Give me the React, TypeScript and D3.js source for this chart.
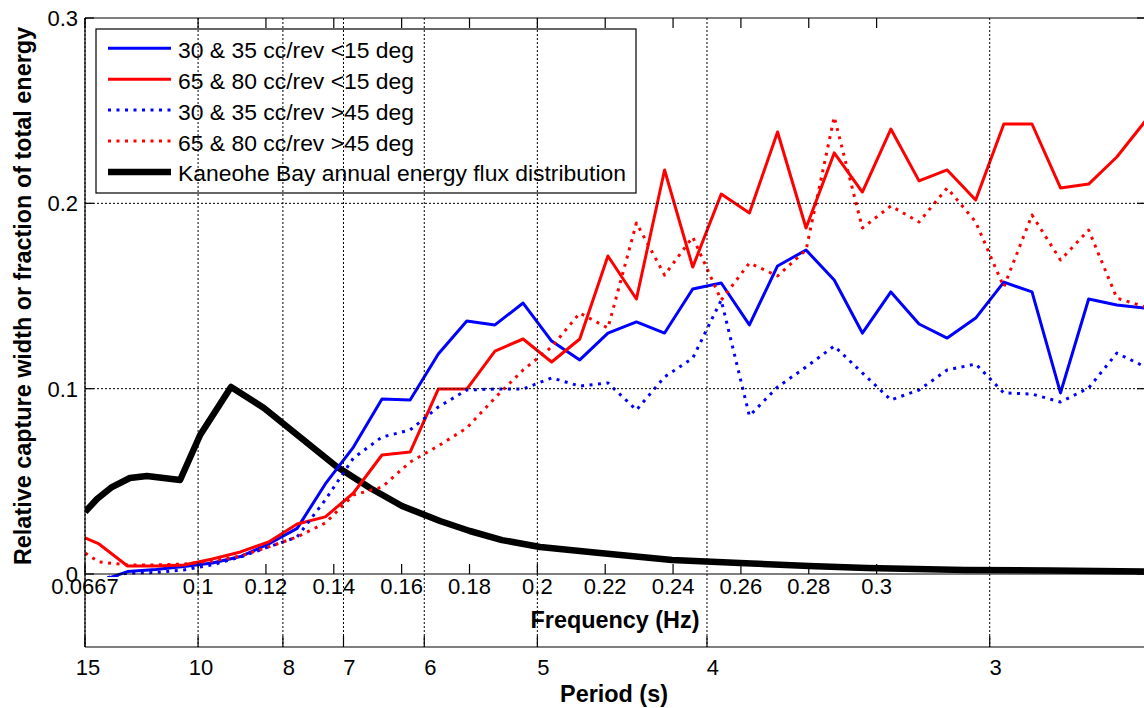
import React from 'react';
import * as d3 from 'd3';

const W = 1144;
const H = 708;

// frequency bins (Hz) for the capture-width series
const freqBins = [
  0.0625, 0.0708, 0.0792, 0.0875, 0.0958, 0.1042, 0.1125, 0.1208, 0.1292, 0.1375,
  0.1458, 0.1542, 0.1625, 0.1708, 0.1792, 0.1875, 0.1958, 0.2042, 0.2125, 0.2208,
  0.2292, 0.2375, 0.2458, 0.2542, 0.2625, 0.2708, 0.2792, 0.2875, 0.2958, 0.3042,
  0.3125, 0.3208, 0.3292, 0.3375, 0.3458, 0.3542, 0.3625, 0.3708, 0.3792,
];

const blueSolid = [
  null, -0.004, 0.0013, 0.0024, 0.004, 0.0059, 0.0094, 0.0162, 0.0246, 0.0486,
  0.0685, 0.0944, 0.0939, 0.1187, 0.1365, 0.1344, 0.1462, 0.1257, 0.1155, 0.13,
  0.136, 0.13, 0.1538, 0.157, 0.1344, 0.1662, 0.1748, 0.1586, 0.13, 0.1522,
  0.1349, 0.1273, 0.1381, 0.1575, 0.1522, 0.0977, 0.1484, 0.1451, 0.1435,
];

const redSolid = [
  0.0227, 0.0162, 0.0043, 0.0043, 0.0049, 0.0081, 0.0119, 0.0173, 0.027, 0.0308,
  0.0437, 0.0642, 0.0658, 0.0998, 0.0998, 0.1203, 0.1268, 0.1144, 0.1268, 0.1716,
  0.1484, 0.218, 0.1656, 0.205, 0.1948, 0.2385, 0.1867, 0.2272, 0.2061, 0.2401,
  0.2121, 0.218, 0.2018, 0.2428, 0.2428, 0.2083, 0.2104, 0.225, 0.2444,
];

const blueDotted = [
  null, -0.003, 0.0005, 0.0008, 0.0022, 0.0049, 0.0092, 0.0146, 0.02, 0.04,
  0.0626, 0.0739, 0.0777, 0.0901, 0.0993, 0.0998, 0.0998, 0.1058, 0.1014, 0.1031,
  0.0885, 0.1063, 0.1165, 0.1478, 0.0853, 0.1009, 0.1117, 0.123, 0.1085, 0.0939,
  0.0993, 0.1101, 0.1133, 0.0977, 0.0971, 0.0928, 0.1004, 0.1192, 0.1117,
];

const redDotted = [
  0.0162, 0.0065, 0.0049, 0.0049, 0.0054, 0.007, 0.0097, 0.0146, 0.02, 0.0275,
  0.0426, 0.0469, 0.0604, 0.0691, 0.0788, 0.095, 0.1101, 0.1225, 0.1408, 0.1327,
  0.1894, 0.1613, 0.1818, 0.1478, 0.1678, 0.1608, 0.1748, 0.2466, 0.1867, 0.1986,
  0.1899, 0.2083, 0.1899, 0.1549, 0.1937, 0.1694, 0.1856, 0.1489, 0.1441,
];

// Kaneohe Bay annual energy flux distribution
const fluxFreq = [
  0.0667, 0.0702, 0.0746, 0.0799, 0.0849, 0.0947, 0.1006, 0.1097, 0.1194, 0.13,
  0.1406, 0.1507, 0.1601, 0.1713, 0.1801, 0.1896, 0.2008, 0.2184, 0.2397, 0.2597,
  0.2801, 0.2971, 0.326, 0.3511, 0.3788,
];
const fluxVals = [
  0.0335, 0.0405, 0.0469, 0.0518, 0.0529, 0.0507, 0.075, 0.1009, 0.0896, 0.0739,
  0.0583, 0.0464, 0.0367, 0.0286, 0.0232, 0.0183, 0.0146, 0.0113, 0.0076, 0.0059,
  0.0043, 0.0032, 0.0022, 0.0019, 0.0013,
];

const freqTicks = [1 / 15, 0.1, 0.12, 0.14, 0.16, 0.18, 0.2, 0.22, 0.24, 0.26, 0.28, 0.3];
const freqTickLabels = ['0.0667', '0.1', '0.12', '0.14', '0.16', '0.18', '0.2', '0.22', '0.24', '0.26', '0.28', '0.3'];
const periodTicks = [15, 10, 8, 7, 6, 5, 4, 3];
const yTicks = [0, 0.1, 0.2, 0.3];
const yTickLabels = ['0', '0.1', '0.2', '0.3'];

const legendLabels = [
  '30 & 35 cc/rev <15 deg',
  '65 & 80 cc/rev <15 deg',
  '30 & 35 cc/rev >45 deg',
  '65 & 80 cc/rev >45 deg',
  'Kaneohe Bay annual energy flux distribution',
];

const FONT = '"Liberation Sans", Arial, Helvetica, sans-serif';

export default function App() {
  const left = 85;
  const right = 1146;
  const top = 18;
  const bottom = 574;
  const periodY = 647;

  const x = d3.scaleLinear().domain([1 / 15, 0.3794]).range([left, right]);
  const y = d3.scaleLinear().domain([0, 0.3]).range([bottom, top]);

  const line = d3
    .line<[number, number | null]>()
    .defined((d) => d[1] !== null)
    .x((d) => x(d[0]))
    .y((d) => y(d[1] as number));

  const mk = (vals: (number | null)[]) => line(freqBins.map((f, i) => [f, vals[i]] as [number, number | null])) || '';
  const fluxPath = line(fluxFreq.map((f, i) => [f, fluxVals[i]] as [number, number | null])) || '';

  const series = [
    { d: mk(blueSolid), color: '#0000ff', dash: undefined as string | undefined, w: 3 },
    { d: mk(redSolid), color: '#ff0000', dash: undefined, w: 3 },
    { d: mk(blueDotted), color: '#0000ff', dash: '3,5.5', w: 3 },
    { d: mk(redDotted), color: '#ff0000', dash: '3,5.5', w: 3 },
  ];

  const legendStyles = [
    { color: '#0000ff', dash: undefined as string | undefined, w: 3 },
    { color: '#ff0000', dash: undefined, w: 3 },
    { color: '#0000ff', dash: '3,5.5', w: 3 },
    { color: '#ff0000', dash: '3,5.5', w: 3 },
    { color: '#000000', dash: undefined, w: 6.5 },
  ];

  const lgX = 96, lgY = 29, lgW = 540, lgH = 164;

  return (
    <svg
      width={W}
      height={H}
      style={{ position: 'absolute', left: 0, top: 0, display: 'block', background: '#fff' }}
      fontFamily={FONT}
    >
      <defs>
        <clipPath id="plotClip">
          <rect x={left} y={top} width={right - left} height={bottom - top + 3} />
        </clipPath>
      </defs>
      <rect x={0} y={0} width={W} height={H} fill="#fff" />

      {/* data */}
      <g clipPath="url(#plotClip)" fill="none" strokeLinejoin="round">
        <path d={fluxPath} stroke="#000" strokeWidth={6.5} />
        {series.map((s, i) => (
          <path key={i} d={s.d} stroke={s.color} strokeWidth={s.w} strokeDasharray={s.dash} />
        ))}
      </g>

      {/* legend */}
      <rect x={lgX} y={lgY} width={lgW} height={lgH} fill="#fff" stroke="#000" strokeWidth={1.2} />
      {legendLabels.map((lab, i) => {
        const ly = 48.3 + i * 30.9;
        const st = legendStyles[i];
        return (
          <g key={lab}>
            <line x1={108} x2={171} y1={ly} y2={ly} stroke={st.color} strokeWidth={st.w} strokeDasharray={st.dash} />
            <text x={178} y={ly + 9.5} fontSize={22.9} fill="#000">
              {lab}
            </text>
          </g>
        );
      })}

      {/* horizontal grid */}
      {yTicks.filter((t) => t > 0 && t < 0.3).map((t) => (
        <line key={'hg' + t} x1={left} x2={right} y1={y(t)} y2={y(t)} stroke="#000" strokeWidth={1} strokeDasharray="2,2" />
      ))}
      {/* vertical grid at periods */}
      {periodTicks.map((p) => (
        <line key={'vg' + p} x1={x(1 / p)} x2={x(1 / p)} y1={top} y2={periodY} stroke="#000" strokeWidth={1} strokeDasharray="2,2" />
      ))}

      {/* axes frame */}
      <g stroke="#000" strokeWidth={1.2} fill="none">
        <line x1={left} x2={right} y1={top} y2={top} />
        <line x1={left} x2={left} y1={top} y2={periodY} />
        <line x1={left} x2={right} y1={bottom} y2={bottom} />
        <line x1={left} x2={right} y1={periodY} y2={periodY} />
        <line x1={right} x2={right} y1={top} y2={periodY} />
      </g>

      {/* frequency ticks */}
      {freqTicks.map((t, i) => (
        <g key={'ft' + i}>
          <line x1={x(t)} x2={x(t)} y1={bottom} y2={bottom - 10} stroke="#000" strokeWidth={1.2} />
          <line x1={x(t)} x2={x(t)} y1={top} y2={top + 10} stroke="#000" strokeWidth={1.2} />
          <text x={x(t)} y={594} fontSize={22} textAnchor="middle" fill="#000">
            {freqTickLabels[i]}
          </text>
        </g>
      ))}

      {/* y ticks */}
      {yTicks.map((t, i) => (
        <g key={'yt' + i}>
          <line x1={left} x2={left + 9} y1={y(t)} y2={y(t)} stroke="#000" strokeWidth={1.2} />
          <line x1={right} x2={right - 9} y1={y(t)} y2={y(t)} stroke="#000" strokeWidth={1.2} />
          <text x={78} y={y(t) + 8} fontSize={22} textAnchor="end" fill="#000">
            {yTickLabels[i]}
          </text>
        </g>
      ))}

      {/* period ticks */}
      {periodTicks.map((p) => {
        const lab = String(p);
        const off = lab.length > 1 ? 3 : 6;
        return (
          <g key={'pt' + p}>
            <line x1={x(1 / p)} x2={x(1 / p)} y1={periodY} y2={periodY - 11} stroke="#000" strokeWidth={1.2} />
            <text x={x(1 / p) + off} y={675} fontSize={22} textAnchor="middle" fill="#000">
              {lab}
            </text>
          </g>
        );
      })}

      {/* axis labels */}
      <text x={615} y={628} fontSize={23.4} fontWeight="bold" textAnchor="middle" fill="#000">
        Frequency (Hz)
      </text>
      <text x={614} y={702} fontSize={23.4} fontWeight="bold" textAnchor="middle" fill="#000">
        Period (s)
      </text>
      <text
        transform={`translate(31, ${(top + bottom) / 2}) rotate(-90)`}
        fontSize={23.4}
        fontWeight="bold"
        textAnchor="middle"
        fill="#000"
      >
        Relative capture width or fraction of total energy
      </text>
    </svg>
  );
}
